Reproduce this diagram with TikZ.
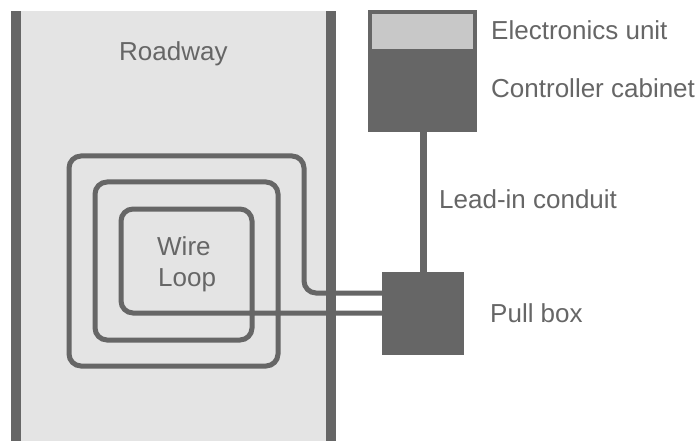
\documentclass[tikz,border=0pt]{standalone}
\usepackage{fontspec}
\setmainfont{Liberation Sans}
\definecolor{dk}{HTML}{666666}
\definecolor{road}{HTML}{E4E4E4}
\definecolor{unit}{HTML}{C8C8C8}
\tikzset{
  lab/.style={text=dk,font=\fontsize{26}{30}\selectfont,anchor=base west,inner sep=0pt},
  wire/.style={draw=dk,line width=5pt,rounded corners=12pt},
  solidbox/.style={fill=dk,draw=none,inner sep=0pt,minimum width=#1},
  bar/.style={fill=dk,draw=none}
}
\begin{document}
\begin{tikzpicture}[x=1pt,y=-1pt]
\useasboundingbox (0,0) rectangle (699,441);
\fill[white] (0,0) rectangle (699,441);
\fill[road] (11,11) rectangle (336,441);
\fill[bar] (11,11) rectangle (21,441);
\node[solidbox=82pt,minimum height=83pt,anchor=north west] (pull) at (382,272) {};
\node[solidbox=109pt,minimum height=122pt,anchor=north west] (cab) at (368,10) {};
\node[fill=unit,draw=none,inner sep=0pt,minimum width=101pt,minimum height=35pt,anchor=north west] (unit) at (372,14) {};
\coordinate (a) at (pull.west |- 0,293);
\coordinate (b) at (pull.west |- 0,313);
\draw[wire] (a) -- (304,293) -- (304,156) -- (69,156) -- (69,366) -- (278,366) -- (278,182) -- (95,182) -- (95,340) -- (252,340) -- (252,209) -- (121,209) -- (121,313) -- (b);
\fill[bar] (326,11) rectangle (336,441);
\draw[dk,line width=7pt] (cab.south -| 423,0) -- (pull.north -| 423,0);
\node[lab] (road) at (119,61) {Roadway};
\node[lab] (wl1) at (157,255) {Wire};
\node[lab] (wl2) at (158,286) {Loop};
\node[lab] (eu) at (491,40) {Electronics unit};
\node[lab] (cc) at (491,98) {Controller cabinet};
\node[lab] (li) at (439,208) {Lead-in conduit};
\node[lab] (pb) at (490,322) {Pull box};
\end{tikzpicture}
\end{document}
